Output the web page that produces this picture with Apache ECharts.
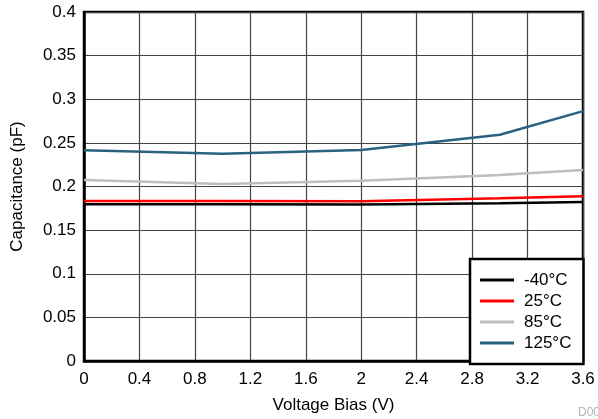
<!DOCTYPE html>
<html>
<head>
<meta charset="utf-8">
<script src="https://cdn.jsdelivr.net/npm/echarts@6/dist/echarts.min.js"></script>
<style>
  html, body { margin: 0; padding: 0; background: #fff; }
  #chart { width: 598px; height: 419px; }
</style>
</head>
<body>
<div id="chart"></div>
<script>
// Bias voltage sample points (V)
const biasVoltage = [0, 1, 2, 3, 3.6];

// Capacitance (pF) per temperature
const capMinus40 = [0.1797, 0.1797, 0.1793, 0.1808, 0.1823];
const cap25 = [0.1835, 0.1835, 0.1831, 0.1866, 0.1888];
const cap85 = [0.2074, 0.2030, 0.2066, 0.2131, 0.2188];
const cap125 = [0.2416, 0.2376, 0.2419, 0.2594, 0.2864];

const seriesNames = ['-40°C', '25°C', '85°C', '125°C'];
const seriesColors = ['#000000', '#ff0000', '#bdbdbd', '#2b6180'];
const seriesValues = [capMinus40, cap25, cap85, cap125];

const fontFamily = '"Liberation Sans", Arial, Helvetica, sans-serif';

function pairs(xs, ys) {
  return xs.map((x, i) => [x, ys[i]]);
}

const chart = echarts.init(document.getElementById('chart'), null, { renderer: 'canvas' });

chart.setOption({
  animation: false,
  backgroundColor: '#ffffff',
  grid: {
    left: 84, top: 12, right: 15, bottom: 56,
    show: true,
    borderColor: '#000',
    borderWidth: 2.5,
    containLabel: false
  },
  xAxis: {
    type: 'value',
    min: 0, max: 3.6, interval: 0.4,
    name: 'Voltage Bias (V)',
    nameLocation: 'middle',
    nameGap: 36,
    nameTextStyle: { color: '#000', fontSize: 17, fontFamily: fontFamily },
    axisLine: { show: true, lineStyle: { color: '#000', width: 2.5 } },
    axisTick: { show: false },
    axisLabel: {
      color: '#000', fontSize: 17, fontFamily: fontFamily, margin: 10,
      formatter: v => String(parseFloat(v.toFixed(1)))
    },
    splitLine: { show: true, lineStyle: { color: '#444444', width: 1.2 } }
  },
  yAxis: {
    type: 'value',
    min: 0, max: 0.4, interval: 0.05,
    name: 'Capacitance (pF)',
    nameLocation: 'middle',
    nameGap: 58,
    nameRotate: 90,
    nameTextStyle: { color: '#000', fontSize: 17, fontFamily: fontFamily },
    axisLine: { show: true, lineStyle: { color: '#000', width: 2.5 } },
    axisTick: { show: false },
    axisLabel: {
      color: '#000', fontSize: 17, fontFamily: fontFamily, margin: 8,
      formatter: v => String(parseFloat(v.toFixed(2)))
    },
    splitLine: { show: true, lineStyle: { color: '#444444', width: 1.2 } }
  },
  legend: {
    orient: 'vertical',
    left: 470,
    top: 259,
    data: seriesNames,
    icon: 'rect',
    itemWidth: 34,
    itemHeight: 3,
    itemGap: 1,
    padding: [11, 12, 11, 10],
    backgroundColor: '#ffffff',
    borderColor: '#000',
    borderWidth: 2.5,
    borderRadius: 0,
    textStyle: {
      color: '#000', fontSize: 17, fontFamily: fontFamily, lineHeight: 20,
      padding: [0, 0, 0, 5]
    }
  },
  graphic: [
    {
      type: 'text',
      left: 578,
      top: 407,
      silent: true,
      style: { text: 'D001', fill: '#b5b5b5', font: '12px ' + fontFamily }
    }
  ],
  series: seriesNames.map((name, i) => ({
    name: name,
    type: 'line',
    data: pairs(biasVoltage, seriesValues[i]),
    symbol: 'none',
    smooth: false,
    color: seriesColors[i],
    lineStyle: { color: seriesColors[i], width: 2.5 },
    z: 3 + i
  }))
});
</script>
</body>
</html>
